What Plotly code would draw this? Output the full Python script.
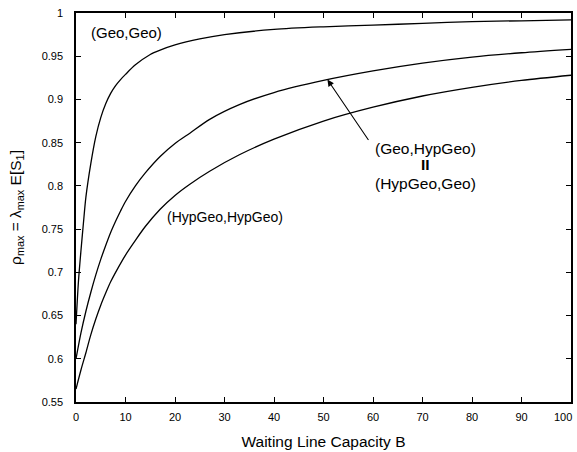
import plotly.graph_objects as go

B_geo = [0, 0.5, 1, 1.5, 2, 3, 4, 5, 6, 7, 8, 9, 10, 12, 15, 17, 20, 25, 30, 40, 50, 60, 70, 80, 90, 100]
rho_geo = [0.64, 0.69, 0.725, 0.757, 0.787, 0.826, 0.857, 0.879, 0.895, 0.907, 0.916, 0.923, 0.929,
           0.940, 0.952, 0.957, 0.963, 0.970, 0.975, 0.981, 0.984, 0.986, 0.988, 0.990, 0.991, 0.992]

B_mid = [0, 1, 2, 3, 4, 5, 6, 7, 8, 9, 10, 12, 14, 17, 20, 23, 27, 33, 40, 50, 60, 70, 80, 90, 100]
rho_mid = [0.600, 0.630, 0.655, 0.677, 0.697, 0.715, 0.731, 0.746, 0.759, 0.771, 0.782, 0.800, 0.815,
           0.834, 0.849, 0.861, 0.877, 0.894, 0.908, 0.922, 0.933, 0.942, 0.949, 0.954, 0.958]

B_hyp = [0, 1, 2, 3, 4, 5, 6, 7, 8, 10, 12, 14, 17, 20, 23, 27, 33, 40, 50, 60, 70, 80, 90, 100]
rho_hyp = [0.565, 0.587, 0.607, 0.628, 0.646, 0.662, 0.676, 0.689, 0.700, 0.720, 0.737, 0.753, 0.773,
           0.789, 0.802, 0.817, 0.836, 0.854, 0.875, 0.891, 0.904, 0.914, 0.922, 0.928]

x_ticks = list(range(0, 101, 10))
x_tick_text = [str(v) for v in x_ticks[:-1]] + [""]
y_ticks = [0.55, 0.6, 0.65, 0.7, 0.75, 0.8, 0.85, 0.9, 0.95, 1.0]
y_tick_text = ["0.55", "0.6", "0.65", "0.7", "0.75", "0.8", "0.85", "0.9", "0.95", "1"]

font = "Liberation Sans, Arial, sans-serif"
fig = go.Figure()
for xs, ys in [(B_geo, rho_geo), (B_mid, rho_mid), (B_hyp, rho_hyp)]:
    fig.add_trace(go.Scatter(x=xs, y=ys, mode="lines", line=dict(color="black", width=1.3,
                                                                   shape="spline", smoothing=0.8),
                             showlegend=False, hoverinfo="skip"))

def fnt(s):
    return dict(family=font, size=s, color="black")

fig.add_annotation(x=2.6, y=0.977, text="(Geo,Geo)", showarrow=False, xanchor="left", font=fnt(15))
fig.add_annotation(x=18.0, y=0.764, text="(HypGeo,HypGeo)", showarrow=False, xanchor="left", font=fnt(14))
fig.add_annotation(x=70.6, y=0.8438, text="(Geo,HypGeo)", showarrow=False, font=fnt(15.5))
fig.add_annotation(x=70.6, y=0.8242, text="<b>II</b>", showarrow=False, font=fnt(15.5))
fig.add_annotation(x=70.6, y=0.8033, text="(HypGeo,Geo)", showarrow=False, font=fnt(15.5))
fig.add_annotation(x=50.8, y=0.923, ax=42, ay=62, text="", showarrow=True, arrowhead=2,
                   arrowsize=1.2, arrowwidth=1.1, arrowcolor="black")
# "100" tick label placed flush with the page edge
fig.add_annotation(x=1.0, y=-0.0386, xref="paper", yref="paper", text="100", showarrow=False,
                   xanchor="right", yanchor="middle", xshift=3, font=fnt(11))

axis_common = dict(showgrid=False, zeroline=False, showline=True, linecolor="black", linewidth=1.5,
                   mirror="ticks", ticks="inside", ticklen=5, tickwidth=1, tickcolor="black",
                   tickfont=fnt(11))
fig.update_xaxes(range=[0, 100], tickvals=x_ticks, ticktext=x_tick_text, **axis_common,
                 ticklabelstandoff=4,
                 title=dict(text="Waiting Line Capacity B", font=fnt(15.5), standoff=14))
fig.update_yaxes(range=[0.55, 1.0], tickvals=y_ticks, ticktext=y_tick_text, **axis_common,
                 ticklabelstandoff=9,
                 title=dict(text="ρ<sub>max</sub> = λ<sub>max</sub> E[S<sub>1</sub>]",
                            font=fnt(15.5), standoff=16))
fig.update_layout(width=577, height=452, margin=dict(l=76, r=4, t=13, b=50),
                  plot_bgcolor="white", paper_bgcolor="white", font=dict(family=font))
fig.write_html("out.html")
